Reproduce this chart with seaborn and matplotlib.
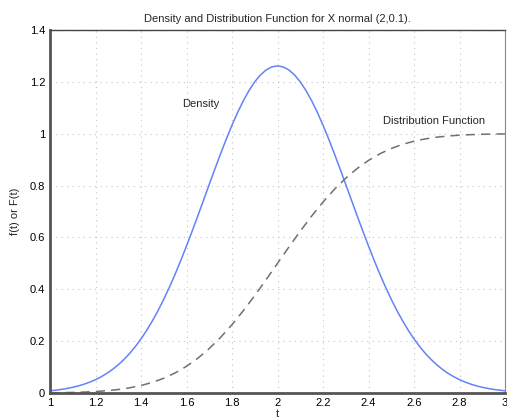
import matplotlib
matplotlib.use("Agg")
import matplotlib.pyplot as plt
import seaborn as sns
import pandas as pd

# density f(t), read at steps of 0.025
t_density = [1.000, 1.025, 1.050, 1.075, 1.100, 1.125, 1.150, 1.175, 1.200, 1.225,
             1.250, 1.275, 1.300, 1.325, 1.350, 1.375, 1.400, 1.425, 1.450, 1.475,
             1.500, 1.525, 1.550, 1.575, 1.600, 1.625, 1.650, 1.675, 1.700, 1.725,
             1.750, 1.775, 1.800, 1.825, 1.850, 1.875, 1.900, 1.925, 1.950, 1.975,
             2.000, 2.025, 2.050, 2.075, 2.100, 2.125, 2.150, 2.175, 2.200, 2.225,
             2.250, 2.275, 2.300, 2.325, 2.350, 2.375, 2.400, 2.425, 2.450, 2.475,
             2.500, 2.525, 2.550, 2.575, 2.600, 2.625, 2.650, 2.675, 2.700, 2.725,
             2.750, 2.775, 2.800, 2.825, 2.850, 2.875, 2.900, 2.925, 2.950, 2.975, 3.000]
density = [0.0085, 0.0109, 0.0138, 0.0175, 0.0220, 0.0274, 0.0341, 0.0420, 0.0514, 0.0626,
           0.0758, 0.0911, 0.1088, 0.1293, 0.1525, 0.1790, 0.2085, 0.2416, 0.2780, 0.3180,
           0.3614, 0.4083, 0.4583, 0.5114, 0.5669, 0.6246, 0.6838, 0.7440, 0.8044, 0.8644,
           0.9230, 0.9795, 1.0329, 1.0825, 1.1274, 1.1668, 1.2001, 1.2266, 1.2459, 1.2577,
           1.2616, 1.2577, 1.2459, 1.2266, 1.2001, 1.1668, 1.1274, 1.0825, 1.0329, 0.9795,
           0.9230, 0.8644, 0.8044, 0.7440, 0.6838, 0.6246, 0.5669, 0.5114, 0.4583, 0.4083,
           0.3614, 0.3180, 0.2780, 0.2416, 0.2085, 0.1790, 0.1525, 0.1293, 0.1088, 0.0911,
           0.0758, 0.0626, 0.0514, 0.0420, 0.0341, 0.0274, 0.0220, 0.0175, 0.0138, 0.0109, 0.0085]

# distribution F(t), read at steps of 0.05
t_distribution = [1.00, 1.05, 1.10, 1.15, 1.20, 1.25, 1.30, 1.35, 1.40, 1.45, 1.50,
                  1.55, 1.60, 1.65, 1.70, 1.75, 1.80, 1.85, 1.90, 1.95, 2.00,
                  2.05, 2.10, 2.15, 2.20, 2.25, 2.30, 2.35, 2.40, 2.45, 2.50,
                  2.55, 2.60, 2.65, 2.70, 2.75, 2.80, 2.85, 2.90, 2.95, 3.00]
distribution = [0.0008, 0.0013, 0.0022, 0.0036, 0.0057, 0.0089, 0.0134, 0.0199, 0.0289, 0.0410, 0.0569,
                0.0774, 0.1030, 0.1342, 0.1714, 0.2146, 0.2636, 0.3177, 0.3759, 0.4372, 0.5000,
                0.5628, 0.6241, 0.6823, 0.7364, 0.7854, 0.8286, 0.8658, 0.8970, 0.9226, 0.9431,
                0.9590, 0.9711, 0.9801, 0.9866, 0.9911, 0.9943, 0.9964, 0.9978, 0.9987, 0.9992]

x_ticks = [1.0, 1.2, 1.4, 1.6, 1.8, 2.0, 2.2, 2.4, 2.6, 2.8, 3.0]
x_tick_labels = ["1", "1.2", "1.4", "1.6", "1.8", "2", "2.2", "2.4", "2.6", "2.8", "3"]
y_ticks = [0, 0.2, 0.4, 0.6, 0.8, 1.0, 1.2, 1.4]
y_tick_labels = ["0", "0.2", "0.4", "0.6", "0.8", "1", "1.2", "1.4"]

df_density = pd.DataFrame({"t": t_density, "value": density})
df_distribution = pd.DataFrame({"t": t_distribution, "value": distribution})

sns.set_style("white")
plt.rcParams["font.family"] = ["Liberation Sans", "DejaVu Sans"]

fig = plt.figure(figsize=(5.07, 4.2), dpi=100)
ax = fig.add_axes([50/507, 27/420, 455/507, 363/420])

sns.lineplot(data=df_density, x="t", y="value", ax=ax, color="#6482f8", linewidth=1.1)
sns.lineplot(data=df_distribution, x="t", y="value", ax=ax, color="#707070",
             linewidth=1.1, linestyle=(0, (6, 4)))

ax.set_xlim(1, 3)
ax.set_ylim(0, 1.4)
ax.set_xticks(x_ticks)
ax.set_xticklabels(x_tick_labels)
ax.set_yticks(y_ticks)
ax.set_yticklabels(y_tick_labels)
ax.grid(True, linestyle=(0, (1, 4)), color="#c4c4c4", linewidth=0.8)
ax.tick_params(direction="in", length=4, labelsize=8, colors="#333333", width=0.8)
for lbl in ax.get_xticklabels() + ax.get_yticklabels():
    lbl.set_color("black")

for side in ["left", "bottom"]:
    ax.spines[side].set_linewidth(2.0)
    ax.spines[side].set_color("#555555")
ax.spines["top"].set_linewidth(1.0)
ax.spines["top"].set_color("#444444")
ax.spines["right"].set_linewidth(0.8)
ax.spines["right"].set_color("#888888")

ax.set_title("Density and Distribution Function for X normal (2,0.1).", fontsize=8, pad=6)
ax.set_xlabel("t", fontsize=8, labelpad=1)
ax.set_ylabel("f(t) or F(t)", fontsize=8, labelpad=7)

ax.text(1.58, 1.116, "Density", fontsize=8, va="center", ha="left")
ax.text(2.463, 1.05, "Distribution Function", fontsize=8, va="center", ha="left")

fig.savefig("out.png", dpi=100)
